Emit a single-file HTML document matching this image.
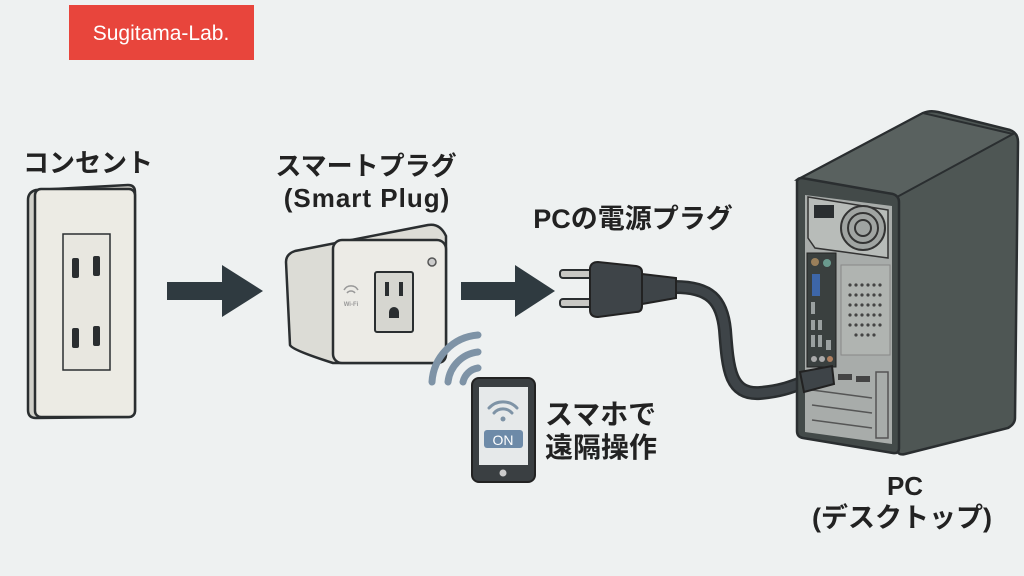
<!DOCTYPE html>
<html><head><meta charset="utf-8"><style>
html,body{margin:0;padding:0;background:#eef1f1;}
svg{display:block}
text{font-family:"Liberation Sans","Noto Sans CJK JP",sans-serif;font-weight:bold;fill:#222}
</style></head><body>
<svg width="1024" height="576" viewBox="0 0 1024 576" xmlns="http://www.w3.org/2000/svg">
<rect width="1024" height="576" fill="#eef1f1"/>
<rect x="69" y="5" width="185" height="55" fill="#e8453c"/>
<text x="161" y="40" font-size="21" text-anchor="middle" style="fill:#fff;font-weight:normal">Sugitama-Lab.</text>

<!-- Outlet -->
<text x="88" y="172" font-size="26" text-anchor="middle">コンセント</text>
<path d="M28 200 Q28 192 36 190 L128 185 Q135 185 135 192 L135 410 Q135 417 128 417 L36 418 Q28 418 28 410 Z" fill="#cfcfc8" stroke="#2a2e30" stroke-width="2.5"/>
<rect x="35" y="189" width="100" height="228" rx="6" fill="#ecebe4" stroke="#2a2e30" stroke-width="2.5"/>
<rect x="63" y="234" width="47" height="136" fill="#e8e7e0" stroke="#2a2e30" stroke-width="1.5"/>
<g fill="#2a2e30">
<rect x="72" y="258" width="7" height="20" rx="2"/><rect x="93" y="256" width="7" height="20" rx="2"/>
<rect x="72" y="328" width="7" height="20" rx="2"/><rect x="93" y="326" width="7" height="20" rx="2"/>
</g>

<!-- Arrows -->
<path d="M167 282 H222 V265 L263 291 L222 317 V300 H167 Z" fill="#2f3a40"/>
<path d="M461 282 H515 V265 L555 291 L515 317 V300 H461 Z" fill="#2f3a40"/>

<!-- Smart plug -->
<text x="366" y="175" font-size="26" text-anchor="middle">スマートプラグ</text>
<text x="367" y="207" font-size="26" text-anchor="middle" letter-spacing="1">(Smart Plug)</text>
<path d="M286 262 Q286 254 295 251 L428 225 Q440 223 446 236 L446 354 Q446 362 438 363 L333 363 Q292 350 290 345 Z" fill="#dcdcd6" stroke="#2a2e30" stroke-width="2.5"/>
<rect x="333" y="240" width="113" height="123" rx="9" fill="#ecebe6" stroke="#2a2e30" stroke-width="2.5"/>
<rect x="375" y="272" width="38" height="60" rx="2" fill="#d6d6d0" stroke="#2a2e30" stroke-width="2"/>
<rect x="385" y="282" width="4" height="14" fill="#2a2e30"/><rect x="399" y="282" width="4" height="14" fill="#2a2e30"/>
<path d="M389 318 v-6 a5 5 0 0 1 10 0 v6 z" fill="#2a2e30"/>
<circle cx="432" cy="262" r="4" fill="#ccc" stroke="#555" stroke-width="1.5"/>
<g fill="none" stroke="#999" stroke-width="1.5"><path d="M344 290 a8 8 0 0 1 14 0"/><path d="M347 293 a5 5 0 0 1 8 0"/></g>
<text x="351" y="306" font-size="6" text-anchor="middle" style="fill:#999">Wi-Fi</text>

<!-- PC plug -->
<text x="633" y="228" font-size="27" text-anchor="middle">PCの電源プラグ</text>
<path d="M675 287 C710 287 722 300 725 330 C728 370 730 395 760 393 C785 391 795 385 815 378" fill="none" stroke="#2a2e30" stroke-width="14" stroke-linecap="round"/>
<path d="M675 287 C710 287 722 300 725 330 C728 370 730 395 760 393 C785 391 795 385 815 378" fill="none" stroke="#3e4448" stroke-width="9" stroke-linecap="round"/>
<rect x="560" y="270" width="33" height="8" rx="3" fill="#c8c8c4" stroke="#2a2e30" stroke-width="2"/>
<rect x="560" y="299" width="33" height="8" rx="3" fill="#c8c8c4" stroke="#2a2e30" stroke-width="2"/>
<path d="M590 268 Q591 262 598 262 L636 266 Q642 267 642 272 L642 306 Q642 312 636 312 L598 317 Q590 317 590 310 Z" fill="#3e4448" stroke="#222" stroke-width="2"/>
<path d="M642 274 L676 278 L676 298 L642 304 Z" fill="#3e4448" stroke="#222" stroke-width="2"/>

<!-- Wifi + phone -->
<g fill="none" stroke="#7e93a6" stroke-width="7" stroke-linecap="round">
<path d="M432 382 A50 50 0 0 1 478 335"/>
<path d="M448 382 A34 34 0 0 1 478 352"/>
<path d="M463 382 A18 18 0 0 1 478 368"/>
</g>
<rect x="472" y="378" width="63" height="104" rx="7" fill="#3a3f42" stroke="#222" stroke-width="2"/>
<rect x="479" y="387" width="49" height="78" fill="#e6e9ea"/>
<circle cx="503" cy="473" r="3.5" fill="#ccc"/>
<g fill="none" stroke="#7e93a6" stroke-width="3" stroke-linecap="round">
<path d="M489 408 a19 19 0 0 1 28 0"/><path d="M494 413 a12 12 0 0 1 18 0"/></g>
<circle cx="503" cy="419" r="2.5" fill="#7e93a6"/>
<rect x="484" y="430" width="39" height="18" rx="3" fill="#6d8aa8"/>
<text x="503" y="445" font-size="14" text-anchor="middle" style="fill:#fff;font-weight:normal">ON</text>
<text x="545" y="424" font-size="28">スマホで</text>
<text x="545" y="457" font-size="28">遠隔操作</text>

<!-- PC tower -->
<path d="M797 180 L923 113 Q930 110 938 112 L1010 130 Q1018 133 1018 142 L1015 418 Q1015 424 1008 428 L905 454 Q897 456 897 448 Z" fill="#4e5654" stroke="#2a2e30" stroke-width="2.5"/>
<path d="M797 180 L923 113 L1013 134 L897 197 Z" fill="#59615f" stroke="#2a2e30" stroke-width="2"/>
<path d="M797 182 Q797 178 802 178 L893 194 Q899 196 899 202 L899 448 Q899 454 893 453 L803 438 Q797 437 797 431 Z" fill="#434a49" stroke="#2a2e30" stroke-width="2.5"/>
<path d="M805 195 L892 206 L892 444 L805 432 Z" fill="#a8acaa"/>
<path d="M808 197 L888 210 L888 258 L815 248 L808 238 Z" fill="#b8bcb9" stroke="#333" stroke-width="1.5"/>
<rect x="814" y="205" width="20" height="13" fill="#2a2e30"/>
<circle cx="863" cy="228" r="22" fill="#a0a4a2" stroke="#333" stroke-width="2"/>
<circle cx="863" cy="228" r="15" fill="none" stroke="#333" stroke-width="2"/>
<circle cx="863" cy="228" r="8" fill="none" stroke="#333" stroke-width="2"/>
<rect x="807" y="253" width="29" height="114" fill="#3a403f" stroke="#222" stroke-width="1"/>
<circle cx="815" cy="262" r="4" fill="#9a7f5a"/><circle cx="827" cy="263" r="4" fill="#6a9a8e"/>
<rect x="812" y="274" width="8" height="22" fill="#3d66a8"/>
<g fill="#9aa0a0"><rect x="811" y="302" width="4" height="12"/><rect x="811" y="320" width="4" height="10"/><rect x="818" y="320" width="4" height="10"/><rect x="811" y="335" width="4" height="12"/><rect x="818" y="335" width="4" height="12"/><rect x="826" y="340" width="5" height="10"/></g>
<circle cx="814" cy="359" r="3" fill="#aaa"/><circle cx="822" cy="359" r="3" fill="#aaa"/><circle cx="830" cy="359" r="3" fill="#b08060"/>
<rect x="841" y="265" width="49" height="90" fill="#b0b4b1" stroke="#888" stroke-width="1"/>
<g fill="#444">
<circle cx="850" cy="285" r="1.6"/><circle cx="856" cy="285" r="1.6"/><circle cx="862" cy="285" r="1.6"/><circle cx="868" cy="285" r="1.6"/><circle cx="874" cy="285" r="1.6"/><circle cx="880" cy="285" r="1.6"/>
<circle cx="850" cy="295" r="1.6"/><circle cx="856" cy="295" r="1.6"/><circle cx="862" cy="295" r="1.6"/><circle cx="868" cy="295" r="1.6"/><circle cx="874" cy="295" r="1.6"/><circle cx="880" cy="295" r="1.6"/>
<circle cx="850" cy="305" r="1.6"/><circle cx="856" cy="305" r="1.6"/><circle cx="862" cy="305" r="1.6"/><circle cx="868" cy="305" r="1.6"/><circle cx="874" cy="305" r="1.6"/><circle cx="880" cy="305" r="1.6"/>
<circle cx="850" cy="315" r="1.6"/><circle cx="856" cy="315" r="1.6"/><circle cx="862" cy="315" r="1.6"/><circle cx="868" cy="315" r="1.6"/><circle cx="874" cy="315" r="1.6"/><circle cx="880" cy="315" r="1.6"/>
<circle cx="850" cy="325" r="1.6"/><circle cx="856" cy="325" r="1.6"/><circle cx="862" cy="325" r="1.6"/><circle cx="868" cy="325" r="1.6"/><circle cx="874" cy="325" r="1.6"/><circle cx="880" cy="325" r="1.6"/>
<circle cx="856" cy="335" r="1.6"/><circle cx="862" cy="335" r="1.6"/><circle cx="868" cy="335" r="1.6"/><circle cx="874" cy="335" r="1.6"/>
</g>
<g fill="none" stroke="#555" stroke-width="1.5">
<line x1="812" y1="390" x2="872" y2="398"/><line x1="812" y1="405" x2="872" y2="413"/><line x1="812" y1="420" x2="872" y2="428"/>
<rect x="876" y="372" width="12" height="66"/>
</g>
<rect x="838" y="374" width="14" height="6" fill="#444"/><rect x="856" y="376" width="14" height="6" fill="#444"/>
<path d="M800 372 L832 366 L834 384 L804 392 Z" fill="#3e4448" stroke="#222" stroke-width="2"/>

<text x="905" y="495" font-size="26" text-anchor="middle">PC</text>
<text x="902" y="527" font-size="27" text-anchor="middle">(デスクトップ)</text>
</svg>
</body></html>
